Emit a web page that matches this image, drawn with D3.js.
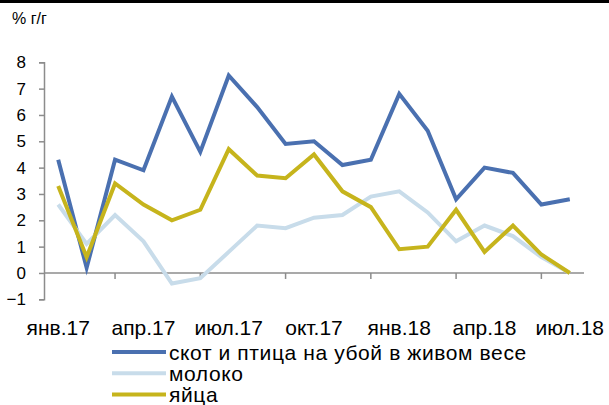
<!DOCTYPE html>
<html>
<head>
<meta charset="utf-8">
<script src="https://cdn.jsdelivr.net/npm/d3@7"></script>
<style>
  body { margin: 0; background: #fff; }
  svg { display: block; font-family: "Liberation Sans", Arial, sans-serif; }
</style>
</head>
<body>
<svg id="chart"></svg>
<script>
// months Jan 2017 .. Jul 2018
var months = ["янв.17","фев.17","мар.17","апр.17","май.17","июн.17","июл.17","авг.17","сен.17",
  "окт.17","ноя.17","дек.17","янв.18","фев.18","мар.18","апр.18","май.18","июн.18","июл.18"];
var tickLabels = ["янв.17","апр.17","июл.17","окт.17","янв.18","апр.18","июл.18"];
var yTicks = [-1, 0, 1, 2, 3, 4, 5, 6, 7, 8];

var livestock = [4.3, 0.2, 4.3, 3.9, 6.7, 4.6, 7.5, 6.3, 4.9, 5.0, 4.1, 4.3, 6.8, 5.4, 2.8, 4.0, 3.8, 2.6, 2.8];
var milk      = [2.6, 1.1, 2.2, 1.2, -0.4, -0.2, 0.8, 1.8, 1.7, 2.1, 2.2, 2.9, 3.1, 2.3, 1.2, 1.8, 1.4, 0.6, 0.0];
var eggs      = [3.3, 0.6, 3.4, 2.6, 2.0, 2.4, 4.7, 3.7, 3.6, 4.5, 3.1, 2.5, 0.9, 1.0, 2.4, 0.8, 1.8, 0.7, 0.0];

var seriesNames = ["скот и птица на убой в живом весе", "молоко", "яйца"];
var seriesColors = ["#4a70b0", "#c8dcea", "#c6b41c"];
var series = [livestock, milk, eggs];

var width = 609, height = 405;
var svg = d3.select("#chart").attr("width", width).attr("height", height);

// black rule at top
svg.append("rect").attr("x", 0).attr("y", 0).attr("width", width).attr("height", 3).attr("fill", "#000");

svg.append("text")
  .attr("x", 12).attr("y", 24)
  .attr("font-size", "16px")
  .attr("fill", "#000")
  .text("% г/г");

var x = d3.scaleBand().domain(months).range([44, 584]);
var y = d3.scaleLinear().domain([-1, 8]).range([299.3, 62.3]);
var axisColor = "#8c8c8c";

// y axis
var yAxis = svg.append("g")
  .attr("transform", "translate(44,0)")
  .call(d3.axisLeft(y).tickValues(yTicks).tickSize(5).tickPadding(13).tickFormat(d3.format("d")));
yAxis.select(".domain").attr("stroke", axisColor).attr("stroke-width", 1.5);
yAxis.selectAll(".tick line").attr("stroke", axisColor).attr("stroke-width", 1.5);
yAxis.selectAll(".tick text")
  .attr("font-size", "17px")
  .attr("fill", "#000")
  .attr("font-family", "Liberation Sans, Arial, sans-serif");

// x axis on zero line, ticks every 3 months at band edges
var zeroY = y(0);
svg.append("line")
  .attr("x1", 44).attr("x2", 584)
  .attr("y1", zeroY).attr("y2", zeroY)
  .attr("stroke", axisColor).attr("stroke-width", 1.5);

var edgeTicks = months.filter(function(m, i) { return i > 0 && i % 3 === 0; });
svg.selectAll(".xtick")
  .data(edgeTicks)
  .enter()
  .append("line")
  .attr("x1", function(d) { return x(d) - x.bandwidth() / 2; })
  .attr("x2", function(d) { return x(d) - x.bandwidth() / 2; })
  .attr("y1", zeroY).attr("y2", zeroY + 6)
  .attr("stroke", axisColor).attr("stroke-width", 1.5);

svg.selectAll(".xlabel")
  .data(tickLabels)
  .enter()
  .append("text")
  .attr("x", function(d) { return x(d) + x.bandwidth() / 2; })
  .attr("y", 335)
  .attr("text-anchor", "middle")
  .attr("font-size", "21px")
  .attr("fill", "#000")
  .text(function(d) { return d; });

// lines
var line = d3.line()
  .x(function(d, i) { return x(months[i]) + x.bandwidth() / 2; })
  .y(function(d) { return y(d); });

svg.selectAll(".series")
  .data(series)
  .enter()
  .append("path")
  .attr("d", line)
  .attr("fill", "none")
  .attr("stroke", function(d, i) { return seriesColors[i]; })
  .attr("stroke-width", 4)
  .attr("stroke-linejoin", "miter");

// legend
var legend = svg.selectAll(".legend")
  .data(seriesNames)
  .enter()
  .append("g")
  .attr("transform", function(d, i) { return "translate(112," + (352 + i * 21.3) + ")"; });

legend.append("line")
  .attr("x1", 0).attr("x2", 54)
  .attr("y1", 0).attr("y2", 0)
  .attr("stroke", function(d, i) { return seriesColors[i]; })
  .attr("stroke-width", 4);

legend.append("text")
  .attr("x", 57).attr("y", 7.5)
  .attr("font-size", "21px")
  .attr("letter-spacing", "0.6px")
  .attr("fill", "#000")
  .text(function(d) { return d; });
</script>
</body>
</html>
